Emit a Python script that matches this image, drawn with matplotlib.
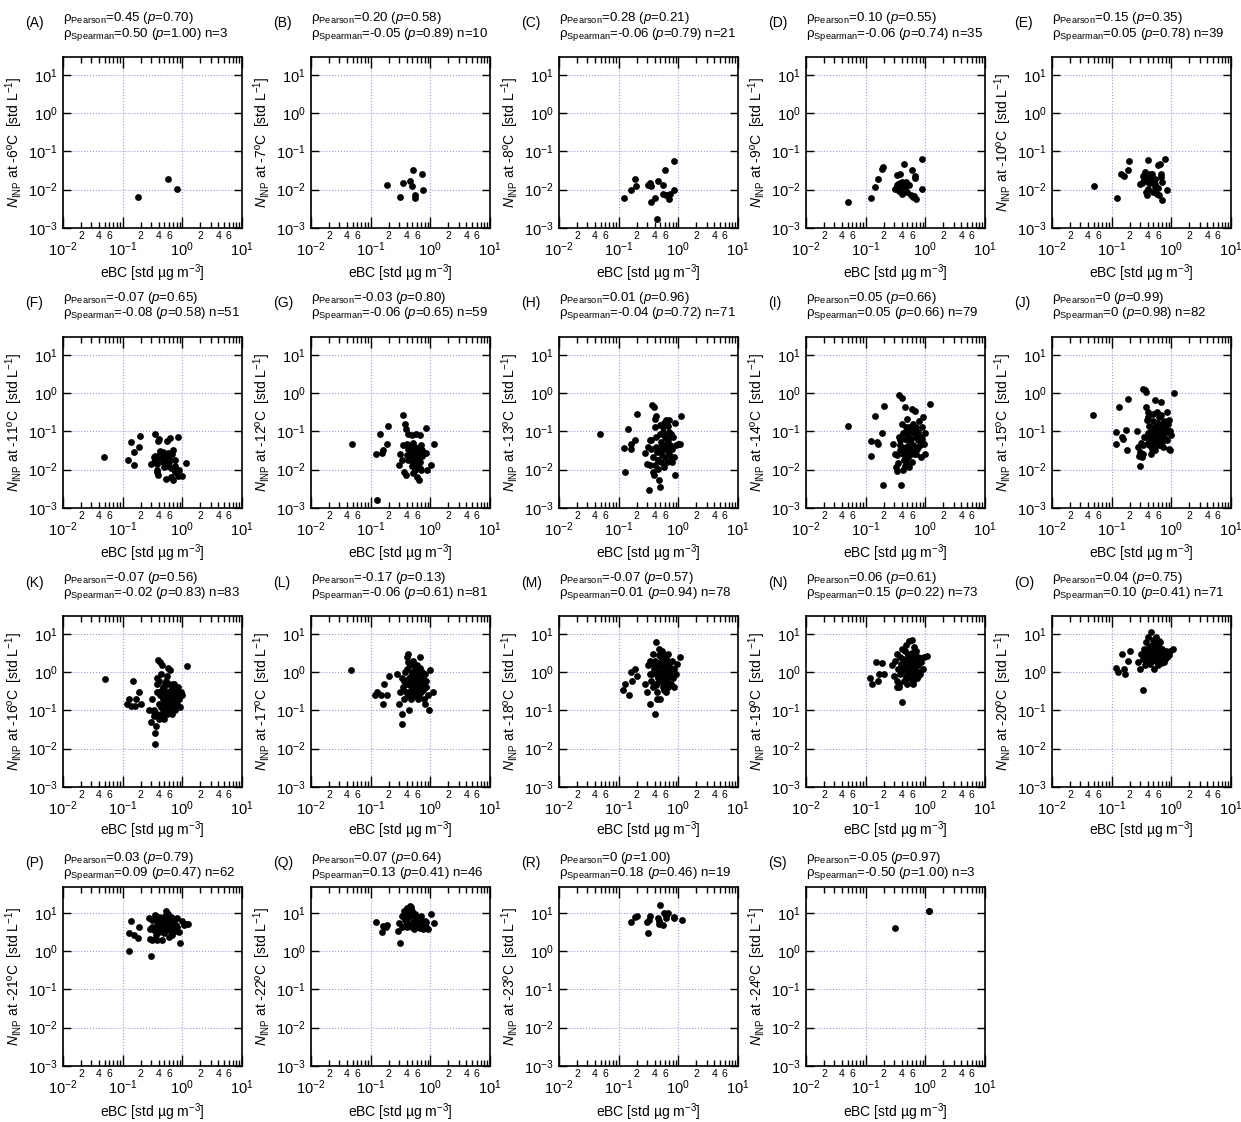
import numpy as np
import matplotlib.pyplot as plt
from matplotlib.ticker import LogLocator, FixedLocator, FuncFormatter, NullLocator

plt.rcParams['font.family'] = ['Liberation Sans', 'DejaVu Sans']
plt.rcParams['mathtext.fontset'] = 'custom'
plt.rcParams['mathtext.rm'] = 'Liberation Sans'
plt.rcParams['mathtext.it'] = 'Liberation Sans:italic'

# ---- data ----
letters = list('ABCDEFGHIJKLMNOPQRS')
temps = [-6, -7, -8, -9, -10, -11, -12, -13, -14, -15, -16, -17, -18, -19, -20, -21, -22, -23, -24]
pearson_r = ['0.45', '0.20', '0.28', '0.10', '0.15', '-0.07', '-0.03', '0.01', '0.05', '0',
             '-0.07', '-0.17', '-0.07', '0.06', '0.04', '0.03', '0.07', '0', '-0.05']
pearson_p = ['0.70', '0.58', '0.21', '0.55', '0.35', '0.65', '0.80', '0.96', '0.66', '0.99',
             '0.56', '0.13', '0.57', '0.61', '0.75', '0.79', '0.64', '1.00', '0.97']
spearman_r = ['0.50', '-0.05', '-0.06', '-0.06', '0.05', '-0.08', '-0.06', '-0.04', '0.05', '0',
              '-0.02', '-0.06', '0.01', '0.15', '0.10', '0.09', '0.13', '0.18', '-0.50']
spearman_p = ['1.00', '0.89', '0.79', '0.74', '0.78', '0.58', '0.65', '0.72', '0.66', '0.98',
              '0.83', '0.61', '0.94', '0.22', '0.41', '0.47', '0.41', '0.46', '1.00']
n_obs = [3, 10, 21, 35, 39, 51, 59, 71, 79, 82, 83, 81, 78, 73, 71, 62, 46, 19, 3]

ebc_a = [0.18, 0.57, 0.82]
inp_a = [0.0065, 0.019, 0.0105]

ebc_b = [0.186, 0.308, 0.342, 0.449, 0.484, 0.51, 0.55, 0.56, 0.73, 0.75]
inp_b = [0.0135, 0.0065, 0.0149, 0.0168, 0.0125, 0.032, 0.0071, 0.0062, 0.025, 0.010]

ebc_c = [0.123, 0.159, 0.19, 0.195, 0.31, 0.34, 0.355, 0.33, 0.355, 0.405, 0.45, 0.437,
         0.56, 0.6, 0.56, 0.62, 0.68, 0.72, 0.70, 0.845, 0.85]
inp_c = [0.0062, 0.0096, 0.0194, 0.0125, 0.013, 0.0138, 0.0122, 0.0148, 0.0048, 0.0062, 0.0165, 0.00175,
         0.013, 0.032, 0.0076, 0.0073, 0.0071, 0.0075, 0.0056, 0.055, 0.010]

ebc_d = [0.051, 0.122, 0.143, 0.158, 0.188, 0.195, 0.306, 0.34, 0.37, 0.33, 0.345, 0.37,
         0.39, 0.365, 0.40, 0.41, 0.437, 0.40, 0.44, 0.47, 0.45, 0.50, 0.53, 0.59,
         0.57, 0.61, 0.65, 0.66, 0.68, 0.69, 0.87, 0.87, 0.44, 0.49, 0.33]
inp_d = [0.0049, 0.0062, 0.0117, 0.0194, 0.035, 0.039, 0.0102, 0.0237, 0.025, 0.0135, 0.0143, 0.015,
         0.0117, 0.0092, 0.0082, 0.0076, 0.046, 0.016, 0.015, 0.016, 0.0117, 0.0138, 0.013, 0.032,
         0.0072, 0.0064, 0.0067, 0.0205, 0.0225, 0.0056, 0.063, 0.0102, 0.0127, 0.0087, 0.0117]

ebc_e = [0.05, 0.121, 0.144, 0.158, 0.186, 0.195, 0.30, 0.32, 0.34, 0.36, 0.36, 0.37, 0.385,
         0.40, 0.40, 0.42, 0.44, 0.47, 0.45, 0.50, 0.50, 0.53, 0.54, 0.57, 0.59, 0.60,
         0.62, 0.65, 0.68, 0.68, 0.70, 0.70, 0.79, 0.84, 0.355, 0.40, 0.53, 0.44, 0.48]
inp_e = [0.0125, 0.0062, 0.026, 0.0223, 0.032, 0.056, 0.0138, 0.015, 0.0227, 0.026, 0.029, 0.0087, 0.0071,
         0.06, 0.016, 0.022, 0.026, 0.025, 0.0177, 0.016, 0.0087, 0.0143, 0.019, 0.0079, 0.043, 0.0113,
         0.0071, 0.048, 0.026, 0.0215, 0.0055, 0.016, 0.063, 0.010, 0.018, 0.0106, 0.0117, 0.015, 0.021]

ebc_f = [0.048, 0.122, 0.14, 0.154, 0.156, 0.187, 0.195, 0.297, 0.33, 0.345, 0.35, 0.37, 0.37,
         0.38, 0.385, 0.39, 0.40, 0.42, 0.43, 0.44, 0.47, 0.50, 0.52, 0.53, 0.53, 0.56,
         0.58, 0.58, 0.60, 0.62, 0.64, 0.64, 0.67, 0.69, 0.71, 0.74, 0.74, 0.85, 0.87,
         0.85, 1.0, 1.14, 0.41, 0.46, 0.50, 0.60, 0.55, 0.34, 0.48, 0.76, 0.36]
inp_f = [0.021, 0.018, 0.054, 0.0135, 0.029, 0.039, 0.074, 0.0138, 0.016, 0.023, 0.087, 0.0138, 0.010,
         0.0087, 0.0071, 0.056, 0.065, 0.026, 0.03, 0.026, 0.016, 0.016, 0.026, 0.0215, 0.0056, 0.056,
         0.0128, 0.027, 0.0194, 0.068, 0.0113, 0.0064, 0.026, 0.0335, 0.0055, 0.018, 0.0128, 0.071, 0.010,
         0.0067, 0.0068, 0.0153, 0.0215, 0.0194, 0.0117, 0.016, 0.017, 0.0215, 0.029, 0.0087, 0.0175]

ebc_g = [0.048, 0.123, 0.126, 0.144, 0.157, 0.163, 0.186, 0.196, 0.30, 0.31, 0.355, 0.36, 0.355,
         0.39, 0.38, 0.39, 0.40, 0.43, 0.45, 0.46, 0.47, 0.49, 0.52, 0.52, 0.54, 0.55, 0.57,
         0.57, 0.60, 0.60, 0.62, 0.64, 0.64, 0.67, 0.68, 0.70, 0.71, 0.73, 0.84, 0.86, 0.87,
         1.02, 1.13, 0.42, 0.49, 0.56, 0.46, 0.52, 0.58, 0.64, 0.40, 0.60, 0.51, 0.43, 0.68,
         0.33, 0.49, 0.73, 0.56]
inp_g = [0.046, 0.025, 0.00165, 0.084, 0.0272, 0.032, 0.046, 0.135, 0.0135, 0.025, 0.043, 0.0087, 0.26,
         0.0071, 0.16, 0.117, 0.048, 0.087, 0.025, 0.0194, 0.0175, 0.032, 0.05, 0.016, 0.0237, 0.028, 0.0128,
         0.087, 0.0175, 0.0064, 0.025, 0.0194, 0.0053, 0.078, 0.0113, 0.043, 0.0096, 0.0225, 0.12, 0.027, 0.010,
         0.0135, 0.048, 0.0175, 0.0128, 0.039, 0.039, 0.0215, 0.015, 0.032, 0.0237, 0.0117, 0.0082, 0.0355, 0.016,
         0.0175, 0.078, 0.0335, 0.0096]

ebc_h = [0.048, 0.125, 0.127, 0.143, 0.158, 0.162, 0.19, 0.20, 0.28, 0.30, 0.31, 0.325, 0.34, 0.355,
         0.36, 0.39, 0.37, 0.39, 0.40, 0.41, 0.42, 0.43, 0.44, 0.45, 0.46, 0.49, 0.49, 0.50,
         0.51, 0.52, 0.54, 0.55, 0.56, 0.57, 0.58, 0.60, 0.60, 0.62, 0.64, 0.65, 0.67, 0.67,
         0.69, 0.69, 0.71, 0.73, 0.75, 0.79, 0.81, 0.85, 0.88, 0.89, 0.93, 0.98, 1.06, 1.12,
         0.355, 0.37, 0.46, 0.48, 0.40, 0.33, 0.52, 0.58, 0.65, 0.74, 0.49, 0.43, 0.69, 0.56, 0.77]
inp_h = [0.083, 0.036, 0.0085, 0.113, 0.048, 0.034, 0.06, 0.28, 0.027, 0.014, 0.039, 0.003, 0.013, 0.06,
         0.48, 0.42, 0.0087, 0.0072, 0.21, 0.13, 0.25, 0.07, 0.029, 0.018, 0.0106, 0.085, 0.039, 0.0035,
         0.053, 0.032, 0.024, 0.13, 0.097, 0.17, 0.043, 0.021, 0.07, 0.2, 0.032, 0.016, 0.14, 0.058,
         0.096, 0.026, 0.2, 0.043, 0.022, 0.035, 0.07, 0.021, 0.0072, 0.165, 0.043, 0.046, 0.047, 0.245,
         0.035, 0.022, 0.018, 0.0054, 0.013, 0.06, 0.016, 0.012, 0.062, 0.085, 0.15, 0.039, 0.039, 0.035, 0.016]

ebc_i = [0.05, 0.122, 0.125, 0.143, 0.155, 0.16, 0.19, 0.195, 0.20, 0.29, 0.31, 0.32, 0.33, 0.34,
         0.36, 0.37, 0.38, 0.385, 0.40, 0.40, 0.42, 0.43, 0.44, 0.45, 0.45, 0.46, 0.48, 0.48,
         0.50, 0.51, 0.52, 0.53, 0.54, 0.55, 0.56, 0.58, 0.59, 0.60, 0.61, 0.62, 0.64, 0.66,
         0.68, 0.69, 0.70, 0.72, 0.75, 0.76, 0.78, 0.80, 0.83, 0.85, 0.87, 0.90, 0.94, 0.99,
         1.0, 1.22, 0.36, 0.40, 0.45, 0.48, 0.52, 0.55, 0.60, 0.64, 0.69, 0.75, 0.80, 0.87,
         0.47, 0.54, 0.62, 0.72, 0.38, 0.43, 0.50, 0.35, 0.57]
inp_i = [0.14, 0.056, 0.023, 0.25, 0.053, 0.046, 0.088, 0.004, 0.47, 0.048, 0.026, 0.0117, 0.0093, 0.024,
         0.88, 0.032, 0.043, 0.004, 0.75, 0.16, 0.088, 0.026, 0.018, 0.42, 0.065, 0.0128, 0.039, 0.13,
         0.21, 0.021, 0.08, 0.048, 0.0117, 0.106, 0.032, 0.065, 0.38, 0.016, 0.16, 0.043, 0.088, 0.026,
         0.35, 0.072, 0.13, 0.035, 0.058, 0.096, 0.19, 0.043, 0.021, 0.072, 0.13, 0.23, 0.048, 0.025,
         0.088, 0.53, 0.07, 0.035, 0.029, 0.016, 0.035, 0.048, 0.035, 0.039, 0.026, 0.039, 0.072, 0.065,
         0.096, 0.13, 0.12, 0.08, 0.058, 0.0096, 0.065, 0.015, 0.025]

ebc_j = [0.048, 0.117, 0.118, 0.135, 0.148, 0.152, 0.175, 0.18, 0.19, 0.27, 0.28, 0.29, 0.30, 0.30,
         0.31, 0.32, 0.33, 0.33, 0.36, 0.37, 0.38, 0.39, 0.40, 0.41, 0.42, 0.43, 0.45, 0.46,
         0.47, 0.48, 0.50, 0.51, 0.53, 0.54, 0.55, 0.57, 0.58, 0.60, 0.62, 0.63, 0.65, 0.66,
         0.68, 0.69, 0.70, 0.73, 0.75, 0.77, 0.79, 0.80, 0.83, 0.86, 0.89, 0.92, 0.96, 0.98,
         0.90, 1.11, 0.96, 0.37, 0.40, 0.43, 0.47, 0.51, 0.55, 0.60, 0.65, 0.70, 0.77, 0.83,
         0.50, 0.58, 0.68, 0.40, 0.35, 0.53, 0.62, 0.73, 0.45, 0.34, 0.56, 0.88]
inp_j = [0.26, 0.096, 0.046, 0.43, 0.073, 0.065, 0.11, 0.032, 0.68, 0.10, 0.039, 0.023, 0.029, 0.0128,
         0.05, 0.0215, 0.026, 1.3, 1.18, 0.43, 1.05, 0.2, 0.088, 0.23, 0.043, 0.14, 0.058, 0.10,
         0.035, 0.08, 0.29, 0.13, 0.073, 0.66, 0.096, 0.17, 0.046, 0.12, 0.065, 0.23, 0.088, 0.16,
         0.6, 0.053, 0.12, 0.073, 0.19, 0.096, 0.13, 0.065, 0.32, 0.058, 0.16, 0.035, 0.10, 0.08,
         0.20, 1.0, 0.032, 0.073, 0.05, 0.08, 0.046, 0.058, 0.073, 0.088, 0.13, 0.088, 0.12, 0.096,
         0.19, 0.32, 0.27, 0.32, 0.073, 0.032, 0.043, 0.039, 0.026, 0.045, 0.14, 0.11]

ebc_k = [0.05, 0.12, 0.13, 0.14, 0.15, 0.16, 0.17, 0.19, 0.20, 0.28, 0.30, 0.31, 0.33, 0.34,
         0.35, 0.35, 0.36, 0.37, 0.38, 0.38, 0.39, 0.40, 0.40, 0.41, 0.42, 0.43, 0.44, 0.45,
         0.45, 0.46, 0.47, 0.48, 0.49, 0.50, 0.50, 0.51, 0.52, 0.53, 0.54, 0.55, 0.56, 0.57,
         0.58, 0.59, 0.60, 0.61, 0.62, 0.63, 0.64, 0.65, 0.66, 0.67, 0.68, 0.70, 0.72, 0.74,
         0.76, 0.78, 0.80, 0.82, 0.85, 0.88, 0.90, 0.95, 1.00, 1.20, 0.42, 0.47, 0.52, 0.57,
         0.62, 0.67, 0.37, 0.44, 0.49, 0.54, 0.59, 0.64, 0.69, 0.74, 0.33, 0.79, 0.56]
inp_k = [0.65, 0.15, 0.2, 0.13, 0.6, 0.13, 0.2, 0.3, 0.15, 0.1, 0.05, 0.2, 0.07, 0.1,
         0.013, 0.025, 0.04, 0.3, 0.5, 0.08, 2.1, 0.15, 0.6, 0.06, 1.8, 0.25, 0.12, 0.35,
         0.08, 1.5, 0.2, 0.1, 0.4, 0.15, 0.06, 0.25, 0.5, 0.12, 0.3, 0.08, 0.2, 1.3,
         0.15, 0.5, 0.1, 0.25, 0.18, 1.1, 0.35, 0.12, 0.22, 0.08, 0.3, 0.15, 0.5, 0.2,
         0.1, 0.35, 0.25, 0.15, 0.4, 0.2, 0.12, 0.3, 0.25, 1.4, 0.3, 0.4, 0.2, 0.18,
         0.28, 0.4, 0.7, 0.9, 0.1, 0.6, 0.3, 0.18, 0.5, 0.12, 0.09, 0.3, 0.8]

ebc_l = [0.046, 0.12, 0.13, 0.15, 0.16, 0.17, 0.19, 0.20, 0.28, 0.30, 0.31, 0.33, 0.34, 0.35,
         0.36, 0.37, 0.38, 0.39, 0.40, 0.41, 0.42, 0.43, 0.44, 0.45, 0.46, 0.47, 0.48, 0.49,
         0.50, 0.51, 0.52, 0.53, 0.54, 0.55, 0.56, 0.57, 0.58, 0.59, 0.60, 0.61, 0.62, 0.63,
         0.64, 0.65, 0.66, 0.67, 0.68, 0.70, 0.72, 0.74, 0.76, 0.78, 0.80, 0.83, 0.86, 0.90,
         0.95, 1.0, 1.1, 0.40, 0.45, 0.50, 0.55, 0.60, 0.65, 0.70, 0.36, 0.43, 0.48, 0.53,
         0.58, 0.63, 0.68, 0.75, 0.82, 0.33, 0.47, 0.52, 0.57, 0.62, 0.44]
inp_l = [1.15, 0.25, 0.3, 0.25, 0.15, 0.5, 0.25, 0.8, 0.9, 0.15, 0.3, 0.08, 0.045, 0.4,
         0.2, 1.0, 0.6, 0.3, 2.5, 0.5, 0.25, 3.0, 0.7, 0.3, 1.5, 0.5, 0.2, 1.0,
         0.4, 0.7, 2.0, 0.3, 0.6, 1.2, 0.25, 0.8, 0.4, 1.5, 0.6, 0.3, 1.0, 0.5,
         0.25, 0.8, 2.5, 0.4, 0.6, 0.3, 1.0, 0.5, 0.7, 0.2, 0.9, 0.4, 0.6, 0.25,
         0.1, 1.1, 0.3, 1.2, 0.45, 0.7, 1.5, 0.35, 0.9, 0.5, 0.6, 1.8, 0.35, 0.5,
         0.9, 0.2, 1.3, 0.35, 0.15, 0.7, 0.8, 0.45, 0.25, 0.7, 0.1]

ebc_m = [0.12, 0.13, 0.15, 0.16, 0.17, 0.19, 0.20, 0.28, 0.30, 0.31, 0.33, 0.34, 0.35, 0.36,
         0.37, 0.38, 0.39, 0.40, 0.41, 0.42, 0.43, 0.44, 0.45, 0.46, 0.47, 0.48, 0.49, 0.50,
         0.51, 0.52, 0.53, 0.54, 0.55, 0.56, 0.57, 0.58, 0.59, 0.60, 0.61, 0.62, 0.63, 0.64,
         0.65, 0.66, 0.67, 0.68, 0.70, 0.72, 0.74, 0.76, 0.78, 0.80, 0.83, 0.86, 0.90, 0.95,
         1.05, 0.40, 0.45, 0.50, 0.55, 0.60, 0.65, 0.70, 0.36, 0.43, 0.48, 0.53, 0.58, 0.63,
         0.68, 0.75, 0.33, 0.47, 0.52, 0.57, 0.62, 0.44]
inp_m = [0.35, 0.5, 0.25, 1.0, 0.6, 1.2, 0.8, 0.5, 0.3, 1.5, 0.15, 2.0, 0.6, 0.9,
         0.4, 3.0, 1.2, 0.08, 2.0, 0.5, 6.0, 0.3, 1.5, 0.8, 4.0, 0.6, 1.0, 0.2,
         2.5, 1.2, 0.7, 3.5, 0.4, 1.8, 0.9, 2.2, 0.5, 1.3, 0.3, 2.8, 0.8, 1.5,
         0.6, 1.1, 3.0, 0.4, 1.8, 0.9, 1.3, 0.5, 2.0, 0.7, 1.2, 0.4, 0.9, 1.6,
         2.5, 1.0, 0.7, 1.4, 2.0, 0.6, 0.9, 1.7, 1.6, 0.45, 2.8, 1.1, 0.35, 1.0,
         1.4, 0.8, 0.9, 1.7, 0.55, 1.2, 2.3, 0.2]

ebc_n = [0.12, 0.13, 0.15, 0.16, 0.17, 0.19, 0.20, 0.28, 0.30, 0.31, 0.33, 0.34, 0.35, 0.36,
         0.37, 0.38, 0.39, 0.40, 0.41, 0.42, 0.43, 0.44, 0.45, 0.46, 0.47, 0.48, 0.49, 0.50,
         0.51, 0.52, 0.53, 0.54, 0.55, 0.56, 0.57, 0.58, 0.59, 0.60, 0.61, 0.62, 0.63, 0.64,
         0.65, 0.66, 0.67, 0.68, 0.70, 0.72, 0.74, 0.76, 0.78, 0.80, 0.83, 0.86, 0.90, 0.95,
         1.05, 0.40, 0.45, 0.50, 0.55, 0.60, 0.65, 0.70, 0.36, 0.43, 0.48, 0.53, 0.58, 0.63,
         0.68, 0.75, 0.33]
inp_n = [0.7, 0.5, 1.8, 0.6, 0.9, 1.7, 0.9, 1.5, 0.8, 2.0, 0.6, 3.0, 1.2, 0.4,
         2.5, 0.9, 1.6, 0.17, 4.0, 1.1, 2.2, 0.6, 3.5, 1.4, 0.8, 5.0, 1.8, 0.5,
         2.8, 1.0, 6.5, 1.5, 0.7, 3.0, 1.2, 2.0, 0.9, 7.0, 1.6, 0.6, 2.5, 1.3,
         4.5, 0.8, 2.0, 1.1, 3.5, 0.7, 1.5, 2.5, 1.0, 0.9, 1.8, 2.3, 1.2, 2.4,
         2.6, 1.2, 2.0, 1.4, 0.9, 3.2, 1.9, 1.0, 0.5, 1.3, 0.7, 2.4, 1.7, 0.5,
         1.6, 0.8, 0.4]

ebc_o = [0.12, 0.13, 0.15, 0.16, 0.17, 0.19, 0.20, 0.28, 0.30, 0.31, 0.33, 0.34, 0.35, 0.36,
         0.37, 0.38, 0.39, 0.40, 0.41, 0.42, 0.43, 0.44, 0.45, 0.46, 0.47, 0.48, 0.49, 0.50,
         0.51, 0.52, 0.53, 0.54, 0.55, 0.56, 0.57, 0.58, 0.59, 0.60, 0.61, 0.62, 0.63, 0.64,
         0.65, 0.66, 0.67, 0.68, 0.70, 0.72, 0.74, 0.76, 0.78, 0.80, 0.83, 0.86, 0.90, 0.95,
         1.05, 0.40, 0.45, 0.50, 0.55, 0.60, 0.65, 0.70, 0.36, 0.43, 0.48, 0.53, 0.58, 0.63, 0.33]
inp_o = [1.3, 1.0, 3.0, 1.2, 0.9, 2.0, 3.5, 1.8, 1.2, 3.0, 0.33, 2.2, 4.0, 1.5,
         2.5, 6.0, 1.8, 3.0, 8.0, 2.2, 4.5, 1.6, 11.0, 3.0, 5.0, 2.0, 7.0, 2.6,
         4.0, 1.2, 6.0, 3.0, 2.0, 8.0, 3.5, 2.4, 5.0, 1.5, 3.0, 4.5, 2.0, 6.0,
         2.8, 1.7, 3.8, 2.3, 4.0, 2.6, 1.8, 3.0, 2.2, 3.6, 2.5, 3.2, 2.8, 3.5,
         4.0, 2.6, 3.8, 2.2, 5.5, 3.2, 2.5, 2.0, 3.4, 2.9, 4.8, 3.6, 2.4, 6.5, 2.7]

ebc_p = [0.126, 0.126, 0.14, 0.155, 0.18, 0.19, 0.30, 0.29, 0.31, 0.28, 0.29, 0.31, 0.33, 0.35,
         0.37, 0.38, 0.40, 0.41, 0.43, 0.44, 0.45, 0.46, 0.48, 0.49, 0.50, 0.52, 0.53, 0.55,
         0.56, 0.58, 0.59, 0.61, 0.62, 0.64, 0.65, 0.67, 0.69, 0.71, 0.73, 0.75, 0.78, 0.80,
         0.82, 0.88, 0.92, 0.97, 1.05, 1.15, 1.25, 0.36, 0.38, 0.41, 0.44, 0.48, 0.51, 0.55,
         0.59, 0.63, 0.67, 0.51, 0.57, 0.31]
inp_p = [0.98, 2.9, 6.2, 2.6, 2.2, 4.3, 0.74, 2.1, 2.0, 7.5, 3.8, 6.4, 3.5, 8.7,
         4.8, 6.2, 3.7, 7.8, 5.2, 3.3, 1.9, 6.4, 4.3, 7.8, 2.9, 5.8, 11.0, 3.9,
         7.0, 4.8, 2.3, 6.0, 3.5, 7.8, 4.3, 2.6, 5.4, 3.9, 6.4, 3.3, 4.8, 7.1,
         4.2, 3.1, 1.65, 6.2, 4.8, 5.2, 5.0, 2.6, 1.9, 3.1, 4.8, 6.0, 4.1, 5.2,
         3.6, 5.2, 7.5, 8.2, 9.2, 4.2]

ebc_q = [0.123, 0.153, 0.163, 0.18, 0.19, 0.29, 0.31, 0.30, 0.33, 0.36, 0.37, 0.38, 0.39, 0.40,
         0.41, 0.43, 0.45, 0.46, 0.47, 0.49, 0.51, 0.52, 0.54, 0.56, 0.58, 0.60, 0.62, 0.64,
         0.66, 0.68, 0.70, 0.72, 0.75, 0.80, 0.83, 0.86, 0.90, 1.02, 1.13, 0.38, 0.43, 0.49,
         0.33, 0.56, 0.68, 0.41]
inp_q = [5.8, 3.2, 4.6, 4.2, 4.9, 3.4, 1.65, 5.4, 8.2, 11.0, 6.4, 4.6, 9.5, 13.0,
         6.7, 5.2, 15.0, 8.0, 14.5, 4.2, 5.8, 9.2, 3.7, 6.4, 4.8, 7.6, 4.2, 5.8,
         6.7, 3.9, 8.2, 5.2, 3.7, 6.2, 4.2, 5.8, 3.7, 9.2, 5.4, 7.6, 9.5, 11.0,
         4.2, 9.5, 5.5, 4.2]

ebc_r = [0.16, 0.19, 0.2, 0.30, 0.31, 0.32, 0.34, 0.46, 0.47, 0.50, 0.56, 0.57, 0.61, 0.63,
         0.68, 0.83, 0.86, 1.14, 0.47]
inp_r = [5.8, 7.8, 8.2, 5.8, 2.9, 6.4, 8.2, 7.1, 5.1, 16.0, 4.8, 10.0, 7.1, 8.7,
         10.0, 7.1, 7.8, 6.4, 6.0]

ebc_s = [0.31, 1.14, 1.14]
inp_s = [4.1, 11.1, 11.0]

ebc_all = [ebc_a, ebc_b, ebc_c, ebc_d, ebc_e, ebc_f, ebc_g, ebc_h, ebc_i, ebc_j,
           ebc_k, ebc_l, ebc_m, ebc_n, ebc_o, ebc_p, ebc_q, ebc_r, ebc_s]
inp_all = [inp_a, inp_b, inp_c, inp_d, inp_e, inp_f, inp_g, inp_h, inp_i, inp_j,
           inp_k, inp_l, inp_m, inp_n, inp_o, inp_p, inp_q, inp_r, inp_s]

# ---- layout (pixels) ----
W, H = 1241, 1122
col_left = [63, 311, 559, 806, 1052]
ax_w = 179
row_top = [57, 337, 616, 887]
row_bot = [228, 508, 787, 1066]
row_ymax = [29, 29, 29, 47]
row_text = [18, 298, 578, 858]
xlab_y = [273, 553, 830, 1112]

fig = plt.figure(figsize=(W / 100, H / 100), dpi=100)


def minor_fmt(v, pos):
    m = int(round(v / 10 ** np.floor(np.log10(v) + 1e-9)))
    return str(m) if m in (2, 4, 6) else ''


for i in range(19):
    r, c = divmod(i, 5)
    left = col_left[c]
    ax = fig.add_axes([left / W, 1 - row_bot[r] / H, ax_w / W, (row_bot[r] - row_top[r]) / H])
    ax.scatter(ebc_all[i], inp_all[i], s=24, color='black', zorder=3, linewidths=0)
    ax.set_xscale('log')
    ax.set_yscale('log')
    ax.set_xlim(1e-2, 1e1)
    ax.set_ylim(1e-3, row_ymax[r])

    ax.xaxis.set_major_locator(FixedLocator([1e-2, 1e-1, 1e0, 1e1]))
    ax.xaxis.set_minor_locator(LogLocator(base=10, subs=np.arange(2, 10), numticks=20))
    ax.xaxis.set_minor_formatter(FuncFormatter(minor_fmt))
    ax.yaxis.set_major_locator(FixedLocator([1e-3, 1e-2, 1e-1, 1e0, 1e1]))
    ax.yaxis.set_minor_locator(NullLocator())

    ax.tick_params(axis='x', which='major', direction='in', top=True, length=8, width=1,
                   pad=9, labelsize=10.5)
    ax.tick_params(axis='x', which='minor', direction='in', top=True, length=4, width=1,
                   pad=2, labelsize=7.5)
    ax.tick_params(axis='y', which='major', direction='in', right=True, length=6, width=1,
                   pad=4, labelsize=10.5)
    for sp in ax.spines.values():
        sp.set_linewidth(1.2)
    ax.grid(True, which='major', color='#9c9cf5', linestyle=':', linewidth=0.8)
    ax.set_axisbelow(True)

    ax.set_ylabel(r'$N_{\mathrm{INP}}$ at %dºC  [std L$^{-1}$]' % temps[i], fontsize=10, labelpad=2)

    fig.text(left / W + ax_w / 2 / W, 1 - xlab_y[r] / H, r'eBC [std µg m$^{-3}$]',
             ha='center', va='center', fontsize=10)
    fig.text((left - 38) / W, 1 - (row_text[r] + 5) / H, '(%s)' % letters[i],
             ha='left', va='center', fontsize=10)
    fig.text(left / W, 1 - row_text[r] / H,
             r'ρ$_{\mathrm{Pearson}}$=%s ($p$=%s)' % (pearson_r[i], pearson_p[i]),
             ha='left', va='center', fontsize=9.5)
    fig.text(left / W, 1 - (row_text[r] + 16) / H,
             r'ρ$_{\mathrm{Spearman}}$=%s ($p$=%s) n=%d' % (spearman_r[i], spearman_p[i], n_obs[i]),
             ha='left', va='center', fontsize=9.5)

fig.savefig('out.png', dpi=100)
